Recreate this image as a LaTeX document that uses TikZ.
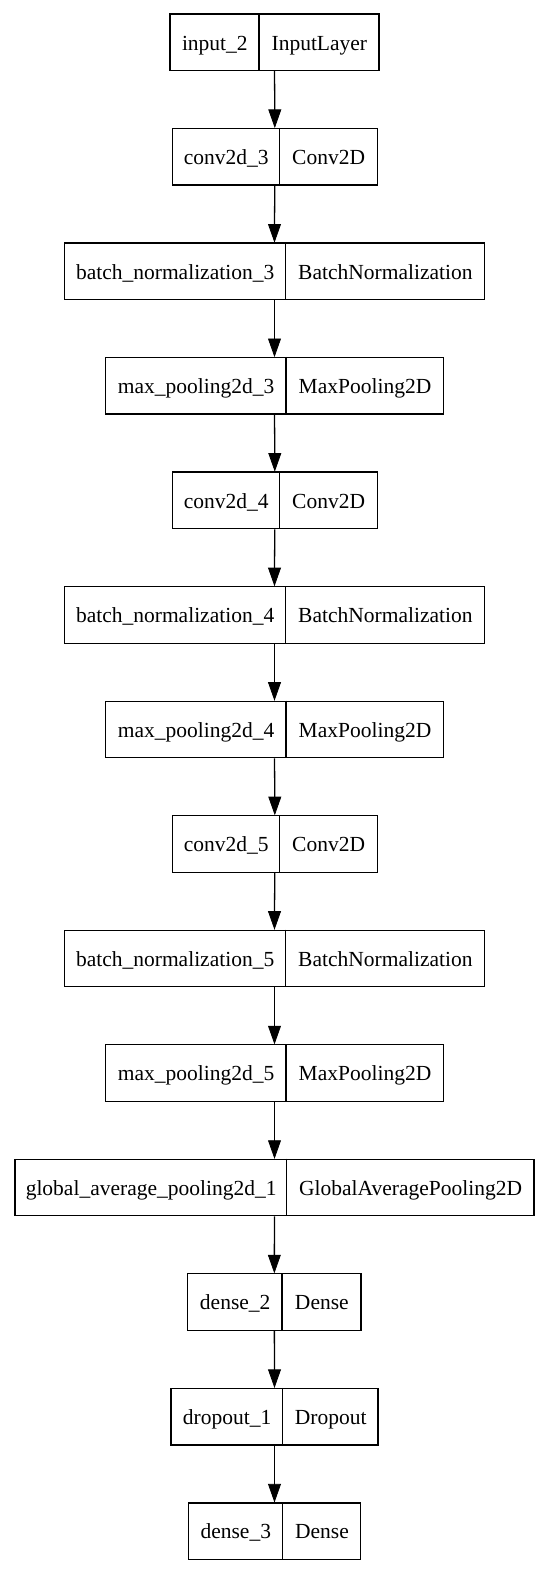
\documentclass[tikz,border=0pt]{standalone}
\usepackage{fontspec}
\setmainfont{Liberation Serif}
\tikzset{
  layerbox/.style={draw=black, line width=1.3pt, inner sep=0pt, rectangle},
  lbl/.style={inner sep=0pt, anchor=base, font=\fontsize{21.5}{24}\selectfont},
  divider/.style={draw=black, line width=1.3pt},
  arr/.style={draw=black, line width=1.3pt},
  arrhead/.style={fill=black, draw=black, line width=0.8pt, line join=miter}
}
\newcommand\layerrow[7]{%
  \node[layerbox, minimum width={(#5-#3)*1pt}, minimum height=56.5pt] (#1) at ({(#3+#5)/2},{#2+28.25}) {};
  \draw[divider] (#1.north west) ++ ({#4-#3},0) -- ++(0,56.5);
  \node[lbl] (#1-name) at ({(#3+#4)/2},{#2+36}) {#6};
  \node[lbl] (#1-type) at ({(#4+#5)/2},{#2+36}) {#7};
}
\begin{document}
\begin{tikzpicture}[x=1pt,y=-1pt]
\useasboundingbox (0,0) rectangle (550,1574);
\fill[white] (0,0) rectangle (550,1574);
\layerrow{n0}{14}{170}{259.7}{379}{input\_2}{InputLayer}
\layerrow{n1}{128.5}{172.3}{280}{377.3}{conv2d\_3}{Conv2D}
\layerrow{n2}{243.1}{64.3}{286}{484.7}{batch\_normalization\_3}{BatchNormalization}
\layerrow{n3}{357.6}{105.7}{286.7}{443.3}{max\_pooling2d\_3}{MaxPooling2D}
\layerrow{n4}{472.1}{172.3}{280}{377.3}{conv2d\_4}{Conv2D}
\layerrow{n5}{586.7}{64.3}{286}{484.7}{batch\_normalization\_4}{BatchNormalization}
\layerrow{n6}{701.2}{105.7}{286.7}{443.3}{max\_pooling2d\_4}{MaxPooling2D}
\layerrow{n7}{815.7}{172.3}{280}{377.3}{conv2d\_5}{Conv2D}
\layerrow{n8}{930.2}{64.3}{286}{484.7}{batch\_normalization\_5}{BatchNormalization}
\layerrow{n9}{1044.8}{105.7}{286.7}{443.3}{max\_pooling2d\_5}{MaxPooling2D}
\layerrow{n10}{1159.3}{15}{287.3}{534}{global\_average\_pooling2d\_1}{GlobalAveragePooling2D}
\layerrow{n11}{1273.8}{187.7}{282.7}{361}{dense\_2}{Dense}
\layerrow{n12}{1388.4}{171}{283.3}{378}{dropout\_1}{Dropout}
\layerrow{n13}{1502.9}{188.3}{283.3}{360.7}{dense\_3}{Dense}
\foreach \a/\b in {n0/n1,n1/n2,n2/n3,n3/n4,n4/n5,n5/n6,n6/n7,n7/n8,n8/n9,n9/n10,n10/n11,n11/n12,n12/n13}{
  \draw[arr] (\a.south) -- ([yshift=17pt]\b.north);
  \filldraw[arrhead] ([yshift=1pt]\b.north) -- ++(-6,-17) -- ++(12,0) -- cycle;
}
\end{tikzpicture}
\end{document}
